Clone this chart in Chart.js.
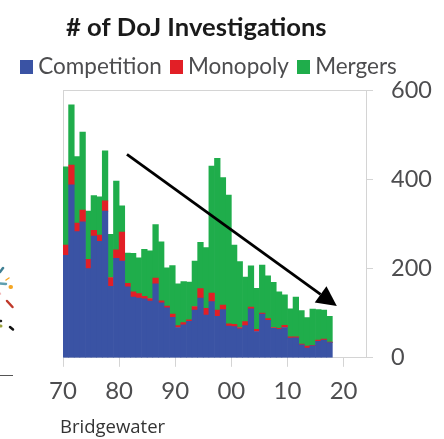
<!DOCTYPE html>
<html><head><meta charset="utf-8">
<style>html,body{margin:0;padding:0;background:#fff}#w{width:444px;height:439px;position:relative}</style>
<script src="https://cdn.jsdelivr.net/npm/chart.js@4"></script>
</head><body><div id="w"><canvas id="c" width="444" height="439"></canvas></div>
<script>
const startYear = 1970;
const competition = [230,388,283,305,200,273,261,329,160,223,217,159,136,134,132,127,166,123,112,91,68,74,82,107,134,96,126,93,108,71,70,65,72,110,59,98,84,66,64,68,44,45,29,22,27,37,40,34];
const monopoly = [23,44,19,26,21,13,14,23,20,19,65,8,12,10,6,6,13,5,4,7,4,5,3,8,21,15,19,14,10,5,5,3,9,4,5,2,4,2,2,5,3,2,2,4,1,3,2,1];
const mergers = [175,135,149,175,108,78,86,112,97,154,59,68,86,80,105,107,120,132,86,109,94,92,85,102,104,136,285,340,286,289,178,148,100,92,92,108,96,101,82,68,63,89,75,64,81,68,65,58];
const seriesNames = ['Competition','Monopoly','Mergers'];
const seriesColors = ['#3a53a4','#e21f26','#1fad4b'];
const trendArrow = [[1981.4,456],[2018.8,116]];
const chartTitle = '# of DoJ Investigations';
const sourceText = 'Bridgewater';
const UI = 'Lato, "Open Sans", sans-serif';
const INK = '#4d4d4f', RULE = '#d4d4d4';

const toPoints = a => a.map((v,i)=>({x:startYear+i+0.5,y:v}));
function swatch(color){const s=document.createElement('canvas');s.width=13;s.height=14;const g=s.getContext('2d');g.fillStyle=color;g.fillRect(0,0,13,14);return s;}

const extras = {
  id:'extras',
  afterLayout(chart){
    const t=chart.titleBlock; t.left=66; t.right=444;
    const l=chart.legend; l.left=12; l.top-=2; l.bottom-=2;
    const s=chart.boxes.find(b=>b.options&&b.options.text===sourceText);
    if(s){s.left=60;s.right=444;}
  },
  beforeDraw(chart){
    const g=chart.ctx; g.save(); g.lineCap='round';
    const seg=(c,w,a,b,d,e)=>{g.strokeStyle=c;g.lineWidth=w;g.beginPath();g.moveTo(a,b);g.lineTo(d,e);g.stroke();};
    seg('#3f7f93',2.5,0,272,3,268); seg('#f5a623',1.5,6,280,9,278); seg('#5f9fb0',2.5,0,283.5,6,284);
    seg('#f5a623',4,10.5,287,11,287); seg('#c0392b',2.5,7,301,12.5,307); seg('#f2b8b8',1.5,0,293,0.5,294);
    seg('#222',2.5,0.5,321,1,321); seg('#9aa03c',3,0.5,326,1,326); seg('#111',2.5,10,327,13,329.5);
    g.lineCap='butt'; seg('#555',1,0,375.5,13,375.5);
    g.restore();
  },
  afterDatasetsDraw(chart){
    const g=chart.ctx,X=chart.scales.x,Y=chart.scales.y;
    const [x0,y0]=[X.getPixelForValue(trendArrow[0][0]),Y.getPixelForValue(trendArrow[0][1])];
    const [x1,y1]=[X.getPixelForValue(trendArrow[1][0]),Y.getPixelForValue(trendArrow[1][1])];
    const a=Math.atan2(y1-y0,x1-x0),L=20,W=10;
    const bx=x1-L*Math.cos(a),by=y1-L*Math.sin(a);
    g.save();g.strokeStyle='#000';g.fillStyle='#000';g.lineWidth=2.8;
    g.beginPath();g.moveTo(x0,y0);g.lineTo(bx,by);g.stroke();
    g.beginPath();g.moveTo(x1,y1);
    g.lineTo(bx-W*Math.sin(a),by+W*Math.cos(a));
    g.lineTo(bx+W*Math.sin(a),by-W*Math.cos(a));
    g.closePath();g.fill();g.restore();
  }
};

new Chart(document.getElementById('c'),{
  type:'bar',
  data:{datasets:[competition,monopoly,mergers].map((d,i)=>({
    label:seriesNames[i],data:toPoints(d),backgroundColor:seriesColors[i],stack:'all',
    barPercentage:1,categoryPercentage:1,borderWidth:0
  }))},
  options:{
    responsive:false,animation:false,
    layout:{padding:{top:12,right:0,bottom:0,left:0}},
    plugins:{
      tooltip:{enabled:false},
      title:{display:true,text:chartTitle,align:'start',color:'#1a1a1a',font:{family:UI,size:25.6,weight:'bold'},padding:{top:0,bottom:1}},
      subtitle:{display:true,text:sourceText,position:'bottom',align:'start',color:'#333',font:{family:'"Open Sans", sans-serif',size:18.5},padding:{top:0,bottom:0}},
      legend:{display:true,position:'top',align:'start',
        labels:{color:INK,font:{family:UI,size:22.5},padding:14,usePointStyle:true,pointStyleWidth:1,boxHeight:14,
          generateLabels:()=>seriesNames.map((n,i)=>({text:n,fillStyle:seriesColors[i],strokeStyle:seriesColors[i],lineWidth:0,pointStyle:swatch(seriesColors[i]),hidden:false,datasetIndex:i,fontColor:INK}))}}
    },
    scales:{
      x:{type:'linear',min:1970,max:2024,offset:false,
        border:{color:RULE},
        grid:{offset:false,tickLength:9,tickColor:RULE,color:c=>c.tick&&c.tick.value===1970?RULE:'rgba(0,0,0,0)'},
        ticks:{stepSize:10,includeBounds:false,maxRotation:0,color:INK,padding:10,font:{family:UI,size:24},callback:v=>String(v%100).padStart(2,'0')},
        afterFit:s=>{s.height=59;}
      },
      y:{position:'right',min:0,max:600,
        border:{color:RULE},
        grid:{tickLength:7,tickColor:RULE,color:c=>c.tick&&c.tick.value===600?RULE:'rgba(0,0,0,0)'},
        ticks:{stepSize:200,color:INK,padding:18,font:{family:UI,size:23.5}},
        afterFit:s=>{s.width=78;}
      },
      leftMargin:{position:'left',display:true,border:{display:false},grid:{display:false},ticks:{display:false},afterFit:s=>{s.width=63;}}
    }
  },
  plugins:[extras]
});
</script></body></html>
